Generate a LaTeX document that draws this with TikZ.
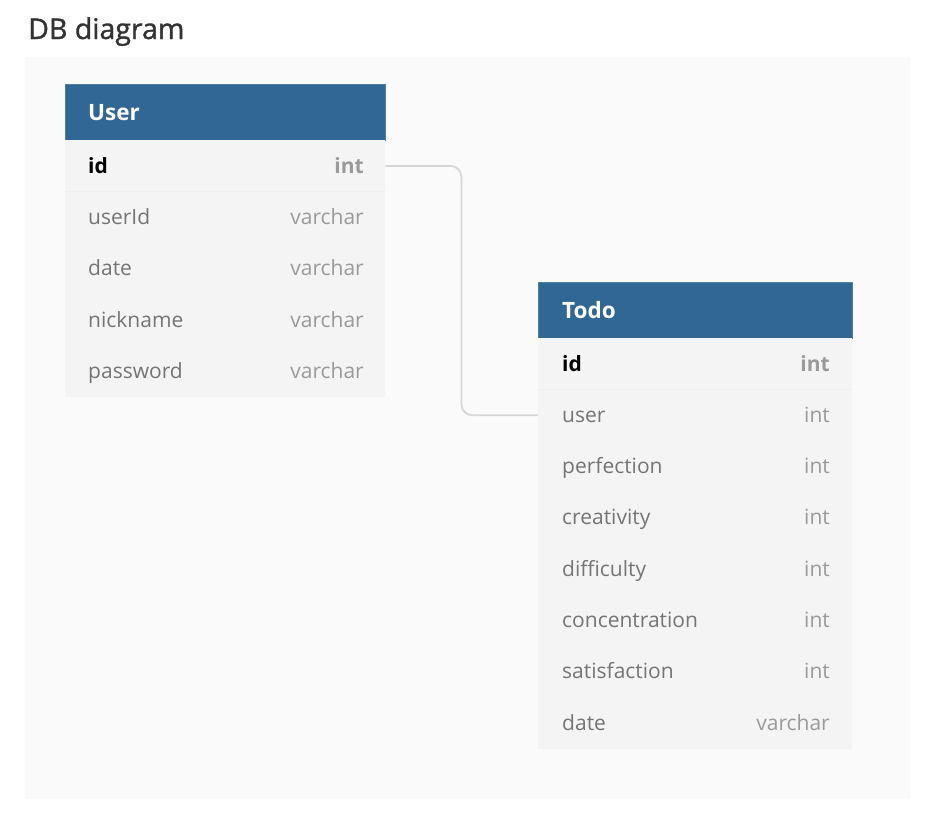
\documentclass[tikz,border=0pt]{standalone}
\usepackage{fontspec}
\setmainfont{Open Sans}
\newfontfamily\titlefont[FakeBold=1.2]{Open Sans}
\usetikzlibrary{calc}
\definecolor{canvas}{HTML}{FAFAFA}
\definecolor{body}{HTML}{F4F4F4}
\definecolor{head}{HTML}{316795}
\definecolor{fname}{HTML}{757575}
\definecolor{ftype}{HTML}{9A9A9A}
\definecolor{titlec}{HTML}{333333}
\definecolor{conn}{HTML}{D6D6D6}
\definecolor{sepc}{HTML}{EEEEEE}
\tikzset{
  x=1pt, y=-1pt,
  tblhead/.style={rectangle, fill=head, draw=head!85!white, line width=0.6pt, inner sep=0pt, anchor=north west, minimum height=56pt},
  tblrow/.style={rectangle, fill=body, inner sep=0pt, anchor=north west, minimum height=51.4pt},
  headtxt/.style={anchor=base west, inner sep=0pt, text=white, font=\fontsize{22.5}{26}\selectfont\bfseries},
  fld/.style={anchor=base west, inner sep=0pt, text=fname, font=\fontsize{21}{25}\selectfont},
  typ/.style={anchor=base east, inner sep=0pt, text=ftype, font=\fontsize{21}{25}\selectfont},
  pkfld/.style={fld, text=black, font=\fontsize{21}{25}\selectfont\bfseries},
  pktyp/.style={typ, font=\fontsize{21}{25}\selectfont\bfseries},
  link/.style={draw=conn, line width=1.8pt, rounded corners=11pt},
}
\begin{document}
\begin{tikzpicture}
\useasboundingbox (0,0) rectangle (933,815);
\fill[white] (0,0) rectangle (933,815);
\fill[canvas] (25,57) rectangle (910,799);
\node[anchor=base west, inner sep=0pt, text=titlec, font=\fontsize{28.5}{32}\titlefont] (title) at (28,39) {DB diagram};

% User table
\node[tblhead, minimum width=320pt] (uhead) at (65,84) {};
\node[headtxt] (uheadt) at (88,120) {User};
\foreach \n [count=\i from 0] in {uid,uuserid,udate,unick,upass}{
  \node[tblrow, minimum width=320pt] (\n) at (65,{140+51.4*\i}) {};
}
\draw[sepc, line width=0.8pt] (uid.south west) -- (uid.south east);
\node[pkfld] (uidf) at (88,173) {id};
\node[pktyp] (uidt) at (364,173) {int};
\foreach \n/\f/\t [count=\i from 1] in {uuserid/userId/varchar, udate/date/varchar, unick/nickname/varchar, upass/password/varchar}{
  \node[fld] (\n f) at (88,{173+51.4*\i}) {\f};
  \node[typ] (\n t) at (364,{173+51.4*\i}) {\t};
}

% Todo table
\node[tblhead, minimum width=314pt] (thead) at (538,282) {};
\node[headtxt] (theadt) at (562,318) {Todo};
\foreach \n [count=\i from 0] in {tid,tuser,tperf,tcrea,tdiff,tconc,tsat,tdate}{
  \node[tblrow, minimum width=314pt] (\n) at (538,{338+51.3*\i}) {};
}
\draw[sepc, line width=0.8pt] (tid.south west) -- (tid.south east);
\node[pkfld] (tidf) at (562,371) {id};
\node[pktyp] (tidt) at (830,371) {int};
\foreach \n/\f/\t [count=\i from 1] in {tuser/user/int, tperf/perfection/int, tcrea/creativity/int, tdiff/difficulty/int, tconc/concentration/int, tsat/satisfaction/int, tdate/date/varchar}{
  \node[fld] (\n f) at (562,{371+51.3*\i}) {\f};
  \node[typ] (\n t) at (830,{371+51.3*\i}) {\t};
}

% relationship
\draw[link] (uid.east) -- ++(76,0) |- (tuser.west);
\end{tikzpicture}
\end{document}
